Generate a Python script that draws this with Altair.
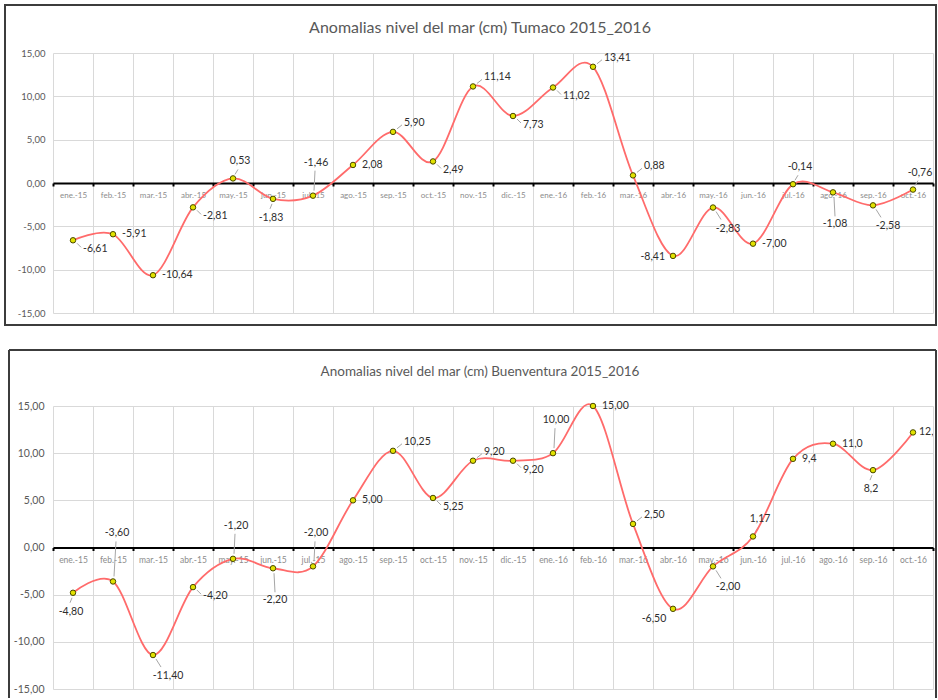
import altair as alt
import pandas as pd

# Months shared by both stations
months = ["ene.-15", "feb.-15", "mar.-15", "abr.-15", "may.-15", "jun.-15",
          "jul.-15", "ago.-15", "sep.-15", "oct.-15", "nov.-15", "dic.-15",
          "ene.-16", "feb.-16", "mar.-16", "abr.-16", "may.-16", "jun.-16",
          "jul.-16", "ago.-16", "sep.-16", "oct.-16"]

# Tumaco sea level anomalies (cm)
tumaco_title = "Anomalias nivel del mar (cm) Tumaco 2015_2016"
tumaco = [-6.61, -5.91, -10.64, -2.81, 0.53, -1.83, -1.46, 2.08, 5.90, 2.49,
          11.14, 7.73, 11.02, 13.41, 0.88, -8.41, -2.83, -7.00, -0.14, -1.08,
          -2.58, -0.76]
tumaco_decimals = [2] * 22
tumaco_label_at = ["rb", "r", "r", "rb", "a", "b", "A", "r", "ra", "rb", "ra",
                   "rb", "rb", "ra", "ra", "l", "br", "r", "a", "B", "br", "a"]

# Buenaventura sea level anomalies (cm)
buen_title = "Anomalias nivel del mar (cm) Buenventura 2015_2016"
buenventura = [-4.80, -3.60, -11.40, -4.20, -1.20, -2.20, -2.00, 5.00, 10.25,
               5.25, 9.20, 9.20, 10.00, 15.00, 2.50, -6.50, -2.00, 1.17, 9.4,
               11.0, 8.2, 12.2]
buen_decimals = [2] * 18 + [1] * 4
buen_label_at = ["b", "AA", "br", "rb", "A", "B", "A", "r", "ra", "rb", "ra",
                 "rb", "A", "r", "ra", "bl", "br", "a", "r", "r", "b", "rn"]

y_ticks = [-15, -10, -5, 0, 5, 10, 15]

# Label placement around each marker: (dx, dy, align)
PLACE = {
    "r": (9, 0, "left"),
    "rn": (6, 0, "left"),
    "ra": (11, -9, "left"),
    "rb": (10, 9, "left"),
    "a": (7, -17, "center"),
    "A": (3, -33, "center"),
    "AA": (4, -48, "center"),
    "b": (-2, 19, "center"),
    "B": (2, 32, "center"),
    "br": (15, 21, "center"),
    "bl": (-19, 10, "center"),
    "l": (-8, 1, "right"),
}

# Leader line from marker towards its label: (x1, y1, x2, y2) pixel offsets
LEADER = {
    "A": (1, -5, 2, -25),
    "AA": (1, -5, 3, -40),
    "B": (1, 5, 2, 24),
    "b": (-1, 5, -3, 10),
    "rb": (4, 3, 8, 7),
    "ra": (4, -3, 9, -7),
    "br": (3, 4, 8, 12),
    "a": (2, -4, 5, -9),
}

FONT = "Lato"
LINE = "#ff6b6b"
GRID = "#d9d9d9"
FRAME = "#3c3c3c"


def fmt(v, d):
    return f"{v:.{d}f}".replace(".", ",")


def panel(title, values, decimals, placement, width, height, frame,
          title_y, title_size, ylab_size, ylab_pad, xlab_size, full_frame):
    df = pd.DataFrame({"mes": months, "valor": values, "idx": list(range(len(months)))})
    df["etiqueta"] = [fmt(v, d) for v, d in zip(values, decimals)]
    df["dx"] = [PLACE[p][0] for p in placement]
    df["dy"] = [PLACE[p][1] for p in placement]
    df["align"] = [PLACE[p][2] for p in placement]
    df["lead"] = [p in LEADER for p in placement]
    for i, k in enumerate(["lx1", "ly1", "lx2", "ly2"]):
        df[k] = [LEADER.get(p, (0, 0, 0, 0))[i] for p in placement]

    x = alt.X("mes:N", sort=months,
              scale=alt.Scale(type="band", paddingInner=0, paddingOuter=0),
              axis=alt.Axis(title=None, orient="bottom", offset=-height / 2,
                            labelAngle=0, labelFontSize=xlab_size,
                            labelColor="#8c8c8c", labelFont=FONT,
                            labelPadding=5, domainColor="#000000",
                            domainWidth=2, tickColor="#000000", tickSize=3,
                            tickWidth=2, tickBand="extent", grid=True,
                            gridColor=GRID, gridWidth=1))
    y = alt.Y("valor:Q",
              scale=alt.Scale(domain=[-15, 15], nice=False, zero=False),
              axis=alt.Axis(title=None, values=y_ticks, grid=True,
                            gridColor=GRID, gridWidth=1, domain=False,
                            ticks=False, labelFontSize=ylab_size,
                            labelColor="#595959", labelFont=FONT,
                            labelPadding=ylab_pad,
                            labelExpr="(datum.value < 0 ? '-' : '') + "
                                      "replace(format(abs(datum.value), '.2f'), '.', ',')"))

    base = alt.Chart(df).encode(x=x, y=y)
    leaders = base.mark_rule(
        color="#a6a6a6", strokeWidth=1,
        xOffset={"expr": "datum.lx1"}, yOffset={"expr": "datum.ly1"},
        x2Offset={"expr": "datum.lx2"}, y2Offset={"expr": "datum.ly2"},
    ).encode(x2=alt.X2("mes:N"), y2=alt.Y2("valor:Q")).transform_filter(
        alt.datum.lead)
    line = base.mark_line(interpolate="cardinal", color=LINE, strokeWidth=1.8)
    pts = base.mark_circle(size=30, fill="#e2e200", stroke="#4a4a00",
                           strokeWidth=1, opacity=1)
    txt_style = dict(font=FONT, fontSize=10.5, color="#2e2e2e", baseline="middle",
                     dx={"expr": "datum.dx"}, dy={"expr": "datum.dy"},
                     align={"expr": "datum.align"})
    labels = base.mark_text(**txt_style).encode(text="etiqueta:N").transform_filter(
        alt.datum.idx < len(months) - 1)
    last_label = base.mark_text(clip=True, **txt_style).encode(
        text="etiqueta:N").transform_filter(alt.datum.idx == len(months) - 1)

    head = alt.Chart(pd.DataFrame({"t": [title]})).mark_text(
        font=FONT, fontSize=title_size, color="#595959", align="center",
        baseline="middle").encode(text="t:N", x=alt.value(width / 2 - 13),
                                  y=alt.value(title_y))

    one = pd.DataFrame({"k": [0]})
    fl, ft, fr, fb = frame
    if full_frame:
        border = [alt.Chart(one).mark_rect(fillOpacity=0, stroke=FRAME,
                                           strokeWidth=2).encode(
            x=alt.value(fl), x2=alt.value(fr), y=alt.value(ft), y2=alt.value(fb))]
    else:
        rule = dict(color=FRAME, strokeWidth=2)
        border = [
            alt.Chart(one).mark_rule(**rule).encode(
                x=alt.value(fl), x2=alt.value(fr), y=alt.value(ft)),
            alt.Chart(one).mark_rule(**rule).encode(
                x=alt.value(fl), y=alt.value(ft), y2=alt.value(fb)),
            alt.Chart(one).mark_rule(**rule).encode(
                x=alt.value(fr), y=alt.value(ft), y2=alt.value(fb)),
        ]

    return alt.layer(*border, head, leaders, line, pts, labels, last_label).properties(
        width=width, height=height)


top = panel(tumaco_title, tumaco, tumaco_decimals, tumaco_label_at,
            width=880, height=260, frame=(-48, -48, 883, 272),
            title_y=-25, title_size=16, ylab_size=9.5, ylab_pad=8,
            xlab_size=8, full_frame=True)

bottom = panel(buen_title, buenventura, buen_decimals, buen_label_at,
               width=880, height=283, frame=(-44, -56, 883, 292),
               title_y=-34, title_size=13.5, ylab_size=10.5, ylab_pad=9,
               xlab_size=8.5, full_frame=False)

chart = alt.vconcat(top, bottom, spacing=23).properties(
    padding={"left": 4, "top": 4, "right": 0, "bottom": 0},
    background="#ffffff",
).configure(font=FONT).configure_view(stroke=None)

chart.save("out.html", embed_options={"renderer": "svg", "actions": False})
